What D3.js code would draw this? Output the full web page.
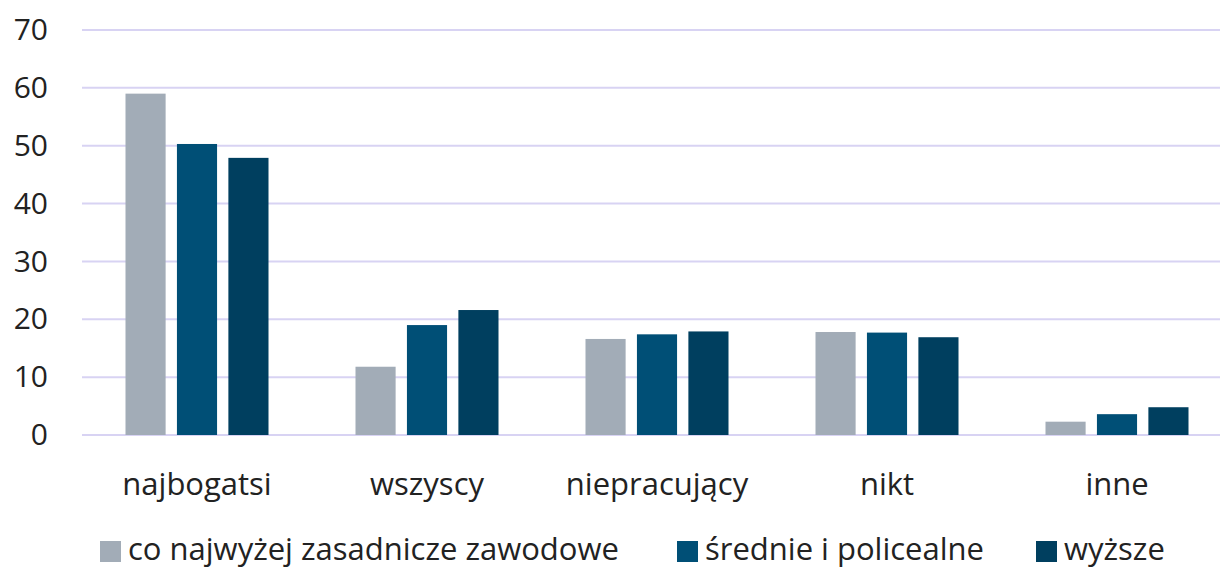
<!DOCTYPE html>
<html>
<head>
<meta charset="utf-8">
<script src="https://cdn.jsdelivr.net/npm/d3@7"></script>
<style>
  body { margin: 0; background: #fff; }
  svg text { font-family: "Open Sans", sans-serif; fill: #222; }
</style>
</head>
<body>
<svg id="main_chart" width="1220" height="568"></svg>
<script>
(function() {
  const categories = ['najbogatsi', 'wszyscy', 'niepracujący', 'nikt', 'inne'];
  const series = ['co najwyżej zasadnicze zawodowe', 'średnie i policealne', 'wyższe'];
  const zasadnicze = [59, 11.8, 16.6, 17.8, 2.3];
  const srednie = [50.3, 19, 17.4, 17.7, 3.6];
  const wyzsze = [47.9, 21.6, 17.9, 16.9, 4.8];
  const y_ticks = [0, 10, 20, 30, 40, 50, 60, 70];
  const colors = ['#a2acb7', '#004f76', '#003f5f'];

  const values = [zasadnicze, srednie, wyzsze];
  const rows = [];
  categories.forEach(function(c, i) {
    series.forEach(function(s, j) {
      rows.push({ category: c, series: s, value: values[j][i] });
    });
  });

  const svg = d3.select('#main_chart');
  const xScale = d3.scaleBand().domain(categories).range([82, 1232]);
  const x1 = d3.scaleBand().domain(series).range([-71.5, 71.5]).paddingInner(0.22);
  const yScale = d3.scaleLinear().domain([0, 70]).range([435, 30]);
  const color = d3.scaleOrdinal().domain(series).range(colors);

  // gridlines
  svg.append('g').selectAll('line').data(y_ticks).enter().append('line')
    .attr('x1', 82).attr('x2', 1220)
    .attr('y1', function(d) { return yScale(d); })
    .attr('y2', function(d) { return yScale(d); })
    .attr('stroke', '#d8d3f3').attr('stroke-width', 2);

  const yAxis = svg.append('g').attr('transform', 'translate(48,0)')
    .call(d3.axisLeft(yScale).tickValues(y_ticks).tickSize(0).tickPadding(0));
  yAxis.select('.domain').remove();
  yAxis.selectAll('text').attr('font-size', 30).attr('font-family', '"Open Sans", sans-serif').attr('fill', '#222');

  svg.append('g').selectAll('rect').data(rows).enter().append('rect')
    .attr('x', function(d) { return xScale(d.category) + xScale.bandwidth() / 2 + x1(d.series); })
    .attr('width', x1.bandwidth())
    .attr('y', function(d) { return yScale(d.value); })
    .attr('height', function(d) { return yScale(0) - yScale(d.value); })
    .attr('fill', function(d) { return color(d.series); });

  const xAxis = svg.append('g').attr('transform', 'translate(0,473)')
    .call(d3.axisBottom(xScale).tickSize(0).tickPadding(0));
  xAxis.select('.domain').remove();
  xAxis.selectAll('text').attr('font-size', 31).attr('font-family', '"Open Sans", sans-serif').attr('fill', '#222');

  // legend
  const legend_x = [100, 677, 1036];
  const legend = svg.append('g').selectAll('g').data(series).enter().append('g')
    .attr('transform', function(d, i) { return 'translate(' + legend_x[i] + ',541)'; });
  legend.append('rect').attr('width', 21).attr('height', 21)
    .attr('fill', function(d) { return color(d); });
  legend.append('text').attr('x', 28).attr('y', 19)
    .attr('font-size', 31).text(function(d) { return d; });
}());
</script>
</body>
</html>
